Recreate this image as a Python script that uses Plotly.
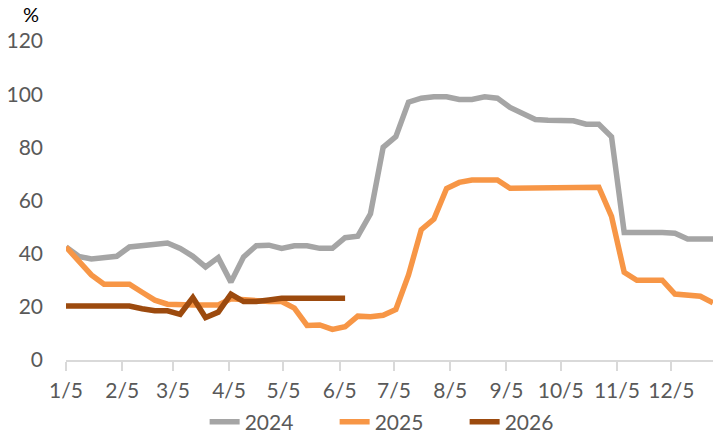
import pandas as pd
import plotly.graph_objects as go

# weekly observations starting 5 Jan
start_date = "2025-01-05"

s2024 = [42.5, 39, 38, 38.5, 39, 42.5, 43, 43.8, 44, 42, 39, 35, 38.5, 29.3, 38.8, 43,
         43.2, 42, 43, 43, 42, 42, 46, 46.6, 55, 80, 84, 97, 98.5, 99, 99, 98, 98, 99,
         98.5, 95, 93, 90.5, 90.2, 90.2, 90, 88.7, 88.7, 84, 48, 48, 48.2, 48, 47.7,
         45.5, 45.5, 45.5]
s2025 = [42.5, 37.5, 32, 28.5, 28.5, 28.5, 25.5, 22.5, 21, 20.7, 20.7, 20.7, 20.7, 23,
         22.5, 22, 22, 22, 19.5, 13, 13.2, 11.5, 12.5, 16.5, 16.3, 16.8, 19, 32, 49, 53,
         64.5, 66.8, 67.7, 67.7, 67.7, 64.6, 64.7, 65, 65, 65, 65, 65, 65, 54, 33, 30,
         30, 30, 24.8, 24.2, 24, 21.5]
s2026 = [20.3, 20.3, 20.3, 20.3, 20.3, 20.3, 19.3, 18.5, 18.5, 17.2, 23.5, 16, 18, 24.8,
         22, 22, 22.6, 23.2, 23.2, 23.2, 23.2, 23.2, 23.2]

tick_dates = ["2025-01-05", "2025-02-05", "2025-03-05", "2025-04-05", "2025-05-05",
              "2025-06-05", "2025-07-05", "2025-08-05", "2025-09-05", "2025-10-05",
              "2025-11-05", "2025-12-05"]
tick_labels = ["1/5", "2/5", "3/5", "4/5", "5/5", "6/5", "7/5", "8/5", "9/5", "10/5",
               "11/5", "12/5"]

dates = pd.date_range(start_date, periods=len(s2024), freq="7D")

series = [("2024", s2024, "#A5A5A5"), ("2025", s2025, "#F79646"), ("2026", s2026, "#9C4A0E")]

fig = go.Figure()
for name, vals, col in series:
    fig.add_trace(go.Scatter(x=dates[:len(vals)], y=vals, name=name, mode="lines",
                             line=dict(color=col, width=5.5)))

font = "Lato, 'Open Sans', sans-serif"
fig.update_layout(
    width=713, height=437,
    margin=dict(l=66, r=0, t=41, b=77),
    paper_bgcolor="white", plot_bgcolor="white",
    font=dict(family=font, size=21, color="#595959"),
    showlegend=True,
    legend=dict(orientation="h", xref="container", yref="container",
                x=0.287, xanchor="left", y=0.034, yanchor="middle",
                font=dict(size=21, color="#595959"), entrywidth=85,
                entrywidthmode="pixels", tracegroupgap=0),
    xaxis=dict(type="date", range=["2025-01-05", "2025-12-28"], tickvals=tick_dates,
               ticktext=tick_labels, showgrid=False, showline=True, linecolor="#D9D9D9",
               linewidth=2, ticks="outside", ticklen=9, tickwidth=2, tickcolor="#D9D9D9",
               zeroline=False, ticklabelstandoff=2, automargin=False),
    yaxis=dict(range=[0, 120], dtick=20, showgrid=False, showline=False, zeroline=False,
               ticks="", ticklabelstandoff=22, automargin=False),
    annotations=[dict(text="%", xref="paper", yref="paper", x=-0.054, y=1.085,
                      xanchor="center", yanchor="middle", showarrow=False,
                      font=dict(size=20, color="black"))],
)
fig.write_html("out.html", post_script="document.body.style.margin='0px';",
               config={"displayModeBar": False})
